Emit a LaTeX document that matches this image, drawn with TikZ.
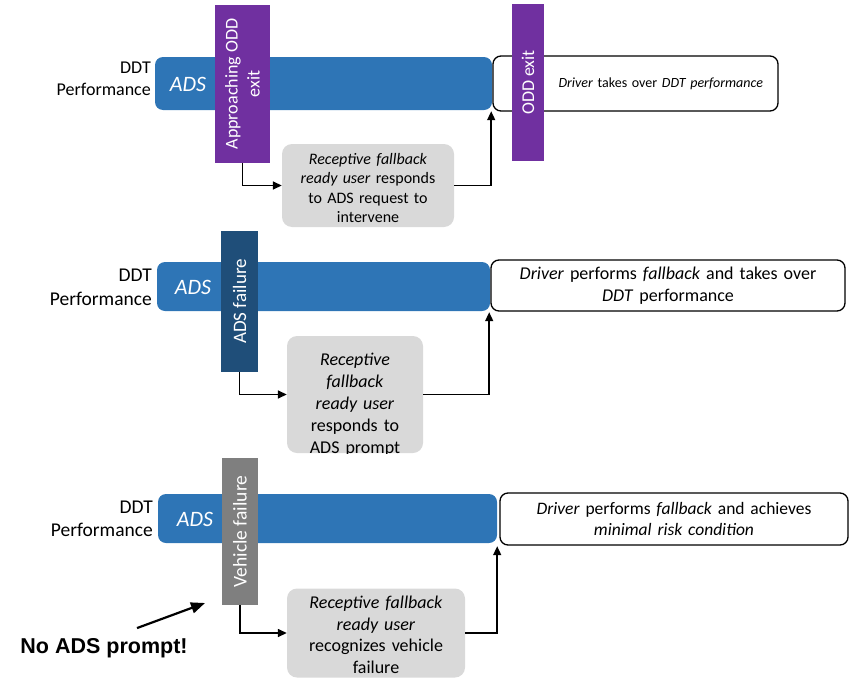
\documentclass[tikz,border=0pt]{standalone}
\usepackage{fontspec}
\setmainfont{Carlito}
\newfontfamily\arialfont{Liberation Sans}
\usetikzlibrary{arrows.meta}

\definecolor{adsblue}{HTML}{2E75B6}
\definecolor{oddpurple}{HTML}{7030A0}
\definecolor{faildark}{HTML}{1F4E79}
\definecolor{vehgray}{HTML}{7F7F7F}
\definecolor{respgray}{HTML}{D9D9D9}

\newcommand{\fs}[2]{\fontsize{#1}{#2}\selectfont}

\begin{document}
\begin{tikzpicture}[
  x=1pt, y=-1pt,
  font=\fs{18}{22},
  ddt/.style={anchor=east, align=right, inner sep=0pt},
  adsbar/.style={rectangle, rounded corners=8pt, fill=adsblue, minimum height=49pt},
  adstext/.style={text=white, font=\fs{22}{26}\itshape, inner sep=0pt},
  event/.style={rectangle, rotate=90, text=white, align=center, inner sep=0pt},
  resp/.style={rectangle, rounded corners=10pt, fill=respgray, align=center, inner sep=0pt},
  resptext/.style={align=center, inner sep=0pt},
  outcome/.style={rectangle, draw=black, line width=1.3pt, rounded corners=8pt,
    fill=white, align=center, inner sep=0pt},
  arr/.style={-{Triangle[length=9pt, width=8pt]}, line width=1.5pt, black},
]
  \useasboundingbox (0,0) rectangle (854,680);

  % Panel 1: approaching ODD exit
  \node[ddt, font=\fs{18}{22}] (ddt1) at (151,79) {DDT\\Performance};
  \node[adsbar, minimum width=337pt, minimum height=53pt] (ads1) at (323.5,83.5) {};
  \node[adstext] (adstxt1) at (188,84) {ADS};
  \node[outcome, minimum width=285pt, minimum height=55pt, text width=255pt,
    align=right, font=\fs{14}{17}] (out1) at (635.5,83.5)
    {\textit{Driver} takes over \textit{DDT performance}};
  \node[event, fill=oddpurple, minimum width=158pt, minimum height=55pt]
    (event1) at (242.5,84) {Approaching ODD\\exit};
  \node[event, fill=oddpurple, minimum width=157pt, minimum height=32pt]
    (oddexit) at (528,82.5) {ODD exit};
  \node[resp, minimum width=172pt, minimum height=83pt] (resp1) at (368,185.5) {};
  \node[resptext, text width=172pt, font=\fs{16}{19.5}] (resp1txt) at (368,188)
    {\textit{Receptive fallback}\\\textit{ready user} responds\\to ADS request to\\intervene};

  \draw[arr] (event1.west) |- (resp1.west);
  \draw[arr] (resp1.east) -| ([xshift=-1pt,yshift=-1pt]ads1.south east);

  % Panel 2: ADS failure
  \node[ddt, font=\fs{19.5}{24}] (ddt2) at (152,287) {DDT\\Performance};
  \node[adsbar, minimum width=333pt] (ads2) at (323.5,286.5) {};
  \node[adstext] (adstxt2) at (193,287) {ADS};
  \node[outcome, minimum width=354pt, minimum height=51pt, text width=340pt]
    (out2) at (668,285.5)
    {\textit{Driver} performs \textit{fallback} and takes over\\\textit{DDT} performance};
  \node[event, fill=faildark, minimum width=141pt, minimum height=37pt,
    font=\fs{19}{22}] (event2) at (239.5,301.5) {ADS failure};
  \node[resp, minimum width=136pt, minimum height=117pt] (resp2) at (355,394.5) {};
  \begin{scope}
    \clip[rounded corners=10pt] (resp2.north west) rectangle (resp2.south east);
    \node[resptext, text width=136pt] (resp2txt) at (355,405)
      {\textit{Receptive}\\\textit{fallback}\\\textit{ready user}\\responds to\\ADS prompt};
  \end{scope}

  \draw[arr] (event2.west) |- (resp2.west);
  \draw[arr] (resp2.east) -| ([xshift=-1pt,yshift=-1pt]ads2.south east);

  % Panel 3: vehicle failure
  \node[ddt, font=\fs{19.5}{23}] (ddt3) at (153,519) {DDT\\Performance};
  \node[adsbar, minimum width=339pt] (ads3) at (327.5,518.5) {};
  \node[adstext] (adstxt3) at (195,519) {ADS};
  \node[outcome, minimum width=348pt, minimum height=52pt, text width=334pt,
    font=\fs{17.5}{21}] (out3) at (674,519)
    {\textit{Driver} performs \textit{fallback} and achieves\\\textit{minimal risk condition}};
  \node[event, fill=vehgray, minimum width=147pt, minimum height=36pt,
    font=\fs{19.5}{22}] (event3) at (240,531.5) {Vehicle failure};
  \node[resp, minimum width=178pt, minimum height=89pt] (resp3) at (376,633) {};
  \node[resptext, text width=178pt, font=\fs{18}{21.5}] (resp3txt) at (376,635)
    {\textit{Receptive fallback}\\\textit{ready user}\\recognizes vehicle\\failure};

  \draw[arr] (event3.west) |- (resp3.west);
  \draw[arr] (resp3.east) -| ([yshift=-3pt]ads3.south east);

  % Annotation
  \node[inner sep=0pt, font=\arialfont\bfseries\fs{21.5}{24}] (noprompt) at (104,648)
    {No ADS prompt!};
  \coordinate (nptip) at (205,603);
  \draw[-{Triangle[length=14pt, width=11pt]}, line width=2.2pt]
    ([xshift=33pt,yshift=10pt]noprompt.north) -- (nptip);
\end{tikzpicture}
\end{document}
